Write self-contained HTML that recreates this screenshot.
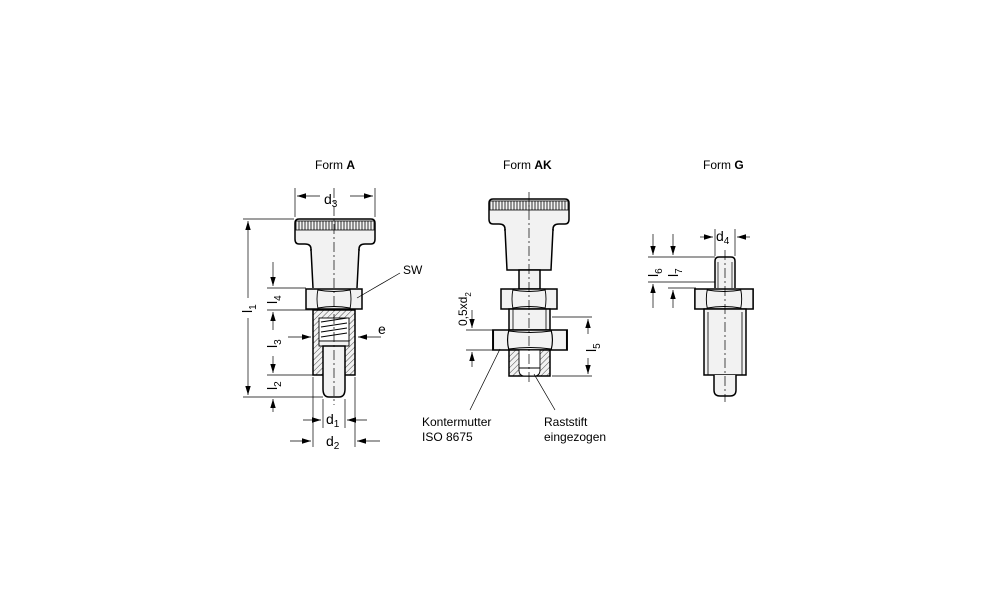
<!DOCTYPE html>
<html><head><meta charset="utf-8"><style>
body{margin:0;background:#fff}
svg{display:block;font-family:"Liberation Sans",Arial,sans-serif}
</style></head><body>
<svg width="1000" height="611" viewBox="0 0 1000 611" xmlns="http://www.w3.org/2000/svg">
<defs>
<pattern id="h" width="4" height="4" patternUnits="userSpaceOnUse" patternTransform="rotate(45)">
<rect width="4" height="4" fill="#f2f2f2"/><line x1="0" y1="0" x2="0" y2="4" stroke="#000" stroke-width="0.7"/></pattern>
<marker id="a" viewBox="0 0 10 10" refX="10" refY="5" markerWidth="9" markerHeight="9" markerUnits="userSpaceOnUse" orient="auto"><path d="M0,2 L10,5 L0,8z" fill="#000"/></marker>
<g id="knob">
<path d="M-24,32 L-24,30 Q-24,25 -30,25 L-36,25 Q-40,25 -40,20 L-40,4 Q-40,0 -36,0 L36,0 Q40,0 40,4 L40,20 Q40,25 36,25 L30,25 Q24,25 24,30 L24,32" fill="#f2f2f2" stroke="#000" stroke-width="1.5"/>
<rect x="-39" y="2" width="78" height="9" fill="none" stroke="#000" stroke-width="0.8"/>
<path d="M-36,2v9M-33,2v9M-30,2v9M-27,2v9M-24,2v9M-21,2v9M-18,2v9M-15,2v9M-12,2v9M-9,2v9M-6,2v9M-3,2v9M0,2v9M3,2v9M6,2v9M9,2v9M12,2v9M15,2v9M18,2v9M21,2v9M24,2v9M27,2v9M30,2v9M33,2v9M36,2v9" stroke="#000" stroke-width="0.8"/>
</g>
<g id="hex">
<path d="M-28,0 L28,0 L28,20 L-28,20 Z" fill="#f2f2f2" stroke="#000" stroke-width="1.5"/>
<path d="M-16,0 Q-18,10 -16,20 M16,0 Q18,10 16,20 M-16,1 Q0,4 16,1 M-16,19 Q0,16 16,19" fill="none" stroke="#000" stroke-width="0.9"/>
</g>
</defs>
<g fill="#000" font-size="12">
<text x="315" y="169">Form <tspan font-weight="bold">A</tspan></text>
<text x="503" y="169">Form <tspan font-weight="bold">AK</tspan></text>
<text x="703" y="169">Form <tspan font-weight="bold">G</tspan></text>
</g>

<!-- FORM A -->
<g stroke="#000" fill="none">
<use href="#knob" x="335" y="219"/>
<path d="M311,250 L313,288 L357,288 L359,250 Z" fill="#f2f2f2" stroke="none"/>
<path d="M311,249 L313,288 M359,249 L357,288" stroke-width="1.5"/>
<use href="#hex" x="334" y="289"/>
<rect x="313" y="310" width="42" height="65" fill="url(#h)" stroke-width="1.5"/>
<rect x="319" y="318" width="30" height="23" fill="#fff" stroke-width="0.9"/>
<path d="M321,322 L347,318 M321,327 L347,323 M321,332 L347,328 M321,337 L347,333" stroke-width="0.9"/>
<rect x="319" y="341" width="30" height="5" fill="#f2f2f2" stroke-width="0.9"/>
<path d="M323,346 L323,389 Q323,397 329,397 L339,397 Q345,397 345,389 L345,346 Z" fill="#f2f2f2" stroke-width="1.5"/>
<path d="M334,188 L334,405" stroke-width="0.7" stroke-dasharray="10,3,2,3"/>
<g stroke-width="0.7">
<path d="M295,188 V217 M375,188 V217"/>
<path d="M320,196 H297" marker-end="url(#a)"/>
<path d="M350,196 H373" marker-end="url(#a)"/>
<path d="M243,219 H294 M267,288 H306 M267,310 H313 M267,375 H313 M243,397 H323"/>
<path d="M248,298 V221" marker-end="url(#a)"/>
<path d="M248,318 V395" marker-end="url(#a)"/>
<path d="M273,262 V286" marker-end="url(#a)"/>
<path d="M273,330 V312" marker-end="url(#a)"/>
<path d="M273,356 V373" marker-end="url(#a)"/>
<path d="M273,412 V399" marker-end="url(#a)"/>
<path d="M288,337 H311" marker-end="url(#a)"/>
<path d="M381,337 H358" marker-end="url(#a)"/>
<path d="M313,377 V447 M355,377 V447 M323,399 V428 M345,399 V428"/>
<path d="M303,420 H321" marker-end="url(#a)"/>
<path d="M367,420 H347" marker-end="url(#a)"/>
<path d="M290,441 H311" marker-end="url(#a)"/>
<path d="M380,441 H357" marker-end="url(#a)"/>
<path d="M357,298 L400,273"/>
</g>
</g>
<g fill="#000" font-size="14">
<text x="324" y="204">d<tspan font-size="10" dy="3">3</tspan></text>
<text transform="translate(252,313) rotate(-90)">l<tspan font-size="10" dy="4">1</tspan></text>
<text transform="translate(277,304) rotate(-90)">l<tspan font-size="10" dy="4">4</tspan></text>
<text transform="translate(277,348) rotate(-90)">l<tspan font-size="10" dy="4">3</tspan></text>
<text transform="translate(277,390) rotate(-90)">l<tspan font-size="10" dy="4">2</tspan></text>
<text x="378" y="334">e</text>
<text x="326" y="424">d<tspan font-size="10" dy="3">1</tspan></text>
<text x="326" y="446">d<tspan font-size="10" dy="3">2</tspan></text>
<text x="403" y="274" font-size="12">SW</text>
</g>

<!-- FORM AK -->
<g stroke="#000" fill="none">
<use href="#knob" x="529" y="199"/>
<path d="M505,230 L507,270 L551,270 L553,230 Z" fill="#f2f2f2" stroke="none"/>
<path d="M505,229 L507,270 L551,270 L553,229" stroke-width="1.5"/>
<rect x="519" y="270" width="21" height="19" fill="#f2f2f2" stroke-width="1.5"/>
<use href="#hex" x="529" y="289"/>
<rect x="509" y="309" width="41" height="21" fill="#f2f2f2" stroke-width="1.5"/>
<path d="M513,309 V330 M546,309 V330" stroke-width="0.8"/>
<g transform="translate(530,330) scale(1.32,1)"><use href="#hex"/></g>
<rect x="509" y="350" width="41" height="26" fill="url(#h)" stroke-width="1.5"/>
<path d="M519,350 L519,370 Q519,376 525,376 L534,376 Q540,376 540,370 L540,350 Z" fill="#fff" stroke-width="0.9"/>
<path d="M519,368 H540" stroke-width="0.9"/>
<path d="M529,192 V385" stroke-width="0.7" stroke-dasharray="10,3,2,3"/>
<g stroke-width="0.7">
<path d="M466,330 H494 M466,350 H494 M552,317 H592 M552,376 H592"/>
<path d="M472,310 V328" marker-end="url(#a)"/>
<path d="M472,367 V352" marker-end="url(#a)"/>
<path d="M588,334 V319" marker-end="url(#a)"/>
<path d="M588,358 V374" marker-end="url(#a)"/>
<path d="M500,349 L470,410 M534,374 L555,410"/>
</g>
</g>
<g fill="#000" font-size="12">
<text transform="translate(467,326) rotate(-90)">0,5xd<tspan font-size="8" dy="4">2</tspan></text>
<text transform="translate(596,352) rotate(-90)" font-size="14">l<tspan font-size="10" dy="4">5</tspan></text>
<text x="422" y="426">Kontermutter</text>
<text x="422" y="441">ISO 8675</text>
<text x="544" y="426">Raststift</text>
<text x="544" y="441">eingezogen</text>
</g>

<!-- FORM G -->
<g stroke="#000" fill="none">
<path d="M715,288 L715,261 Q715,257 719,257 L731,257 Q735,257 735,261 L735,288" fill="#f2f2f2" stroke-width="1.5"/>
<path d="M718,262 V288 M732,262 V288" stroke-width="0.7"/>
<g transform="translate(724,289) scale(1.04,1)"><use href="#hex"/></g>
<rect x="704" y="309" width="42" height="66" fill="#f2f2f2" stroke-width="1.5"/>
<path d="M708,312 V375 M742,312 V375 M706,309 H744" stroke-width="0.8"/>
<path d="M714,375 L714,390 Q714,396 720,396 L730,396 Q736,396 736,390 L736,375" fill="#f2f2f2" stroke-width="1.5"/>
<path d="M725,250 V402" stroke-width="0.7" stroke-dasharray="10,3,2,3"/>
<g stroke-width="0.7">
<path d="M715,229 V256 M735,229 V256"/>
<path d="M700,237 H713" marker-end="url(#a)"/>
<path d="M750,237 H737" marker-end="url(#a)"/>
<path d="M648,257 H715 M648,282 H715 M668,288 H696"/>
<path d="M653,234 V255" marker-end="url(#a)"/>
<path d="M673,234 V255" marker-end="url(#a)"/>
<path d="M653,308 V284" marker-end="url(#a)"/>
<path d="M673,308 V290" marker-end="url(#a)"/>
</g>
</g>
<g fill="#000" font-size="14">
<text x="716" y="241">d<tspan font-size="10" dy="3">4</tspan></text>
<text transform="translate(658,277) rotate(-90)">l<tspan font-size="10" dy="4">6</tspan></text>
<text transform="translate(678,277) rotate(-90)">l<tspan font-size="10" dy="4">7</tspan></text>
</g>
</svg>
</body></html>
